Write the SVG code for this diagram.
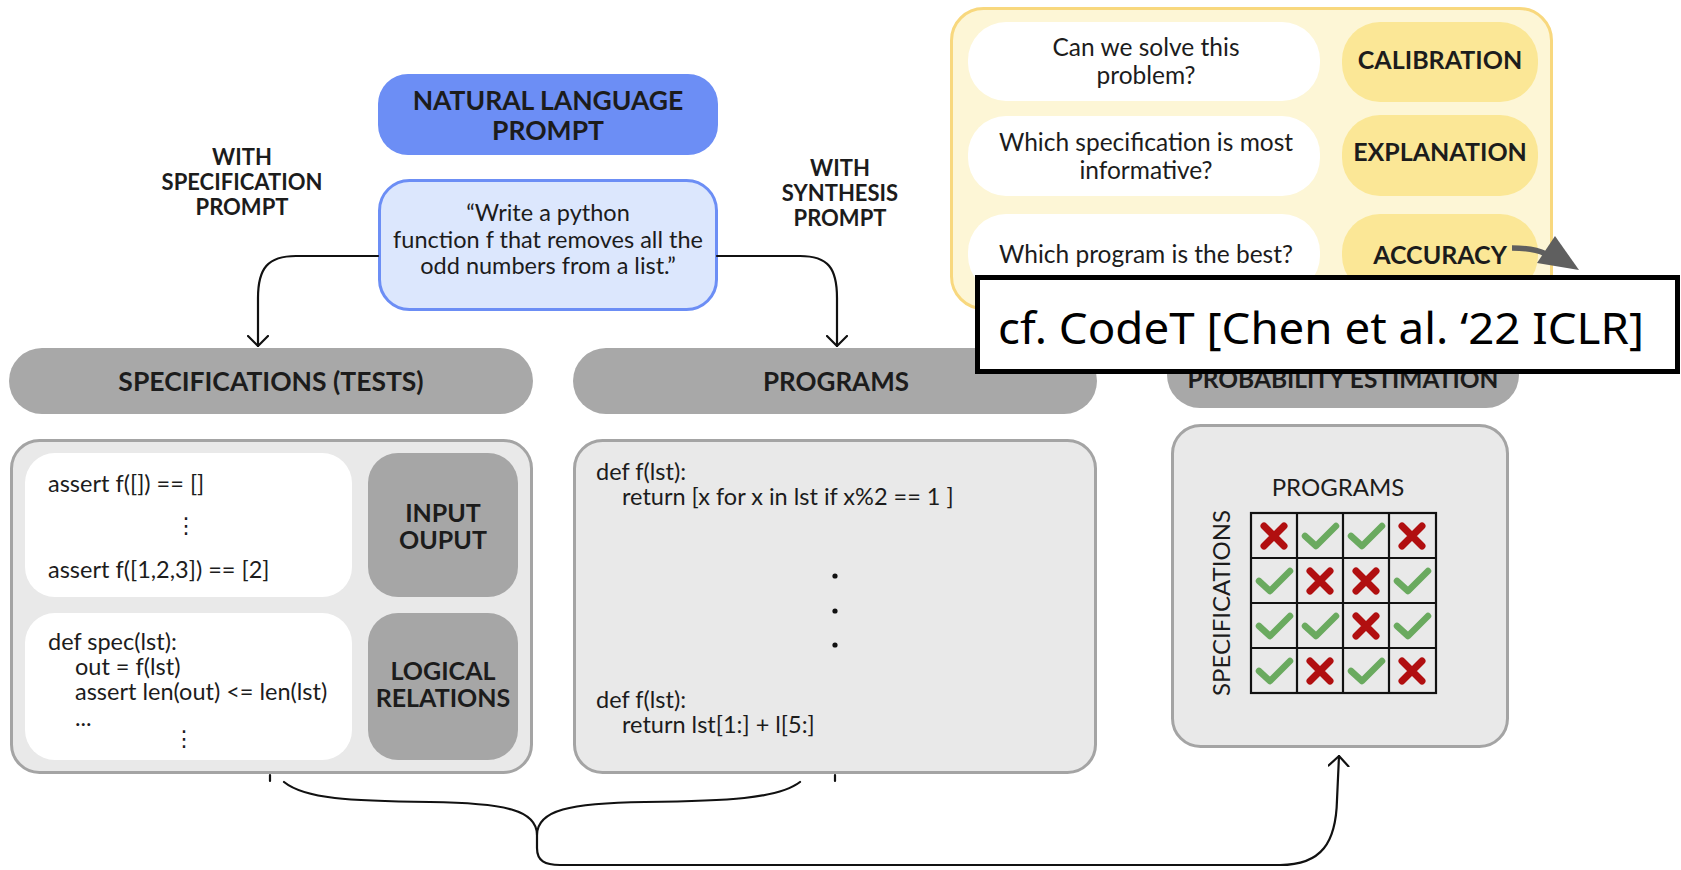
<svg xmlns="http://www.w3.org/2000/svg" width="1681" height="870" viewBox="0 0 1681 870">
  <defs>
    <style>
      text { font-family: Lato, 'Open Sans', 'DejaVu Sans', sans-serif; fill: #1c1c1c; }
      .b { font-weight: bold; }
      .mid { text-anchor: middle; }
      .code { font-size: 23.5px; }
      .hdr { fill: #a8a8a8; }
      .hdr-t { font-size: 26.5px; font-weight: bold; text-anchor: middle; }
      .panel { fill: #e9e9e9; stroke: #a4a4a4; stroke-width: 3; }
      .inner { fill: #ffffff; }
      .tag { fill: #a6a6a6; }
      .tag-t { font-size: 25px; font-weight: bold; text-anchor: middle; }
      .pill-w { fill: #ffffff; }
      .pill-y { fill: #fbe796; }
      .q { font-size: 24.5px; text-anchor: middle; }
      .qt { font-size: 25px; font-weight: bold; text-anchor: middle; }
      .side { font-size: 22px; font-weight: bold; text-anchor: middle; }
      .conn { fill: none; stroke: #111; stroke-width: 2.2; stroke-linecap: round; }
      .cell { fill: none; stroke: #111; stroke-width: 2.2; }
    </style>
    <marker id="chev" markerUnits="userSpaceOnUse" viewBox="0 0 12 22" markerWidth="12" markerHeight="22" refX="11" refY="11" orient="auto">
      <path d="M1,1 L11,11 L1,21" fill="none" stroke="#111" stroke-width="2.2" stroke-linecap="round" stroke-linejoin="round"/>
    </marker>
    <g id="xmark">
      <path d="M-10,-10 L10,10 M10,-10 L-10,10" stroke="#b10f10" stroke-width="7" stroke-linecap="round" fill="none"/>
    </g>
    <g id="okmark">
      <path d="M-15,0 L-4,10 L16,-10" stroke="#6aaa5f" stroke-width="6.5" stroke-linecap="round" stroke-linejoin="round" fill="none"/>
    </g>
  </defs>

  <rect width="1681" height="870" fill="#ffffff"/>

  <!-- side labels on the two prompt branches -->
  <g id="label-spec-prompt">
    <text class="side"><tspan x="242" y="165">WITH</tspan><tspan x="242" y="190">SPECIFICATION</tspan><tspan x="242" y="215">PROMPT</tspan></text>
  </g>
  <g id="label-synth-prompt">
    <text class="side"><tspan x="840" y="176">WITH</tspan><tspan x="840" y="201">SYNTHESIS</tspan><tspan x="840" y="226">PROMPT</tspan></text>
  </g>

  <!-- natural language prompt -->
  <g id="nl-prompt">
    <rect x="378" y="74" width="340" height="81" rx="30" fill="#6c8ef5"/>
    <text class="b mid" font-size="26.5"><tspan x="548" y="110">NATURAL LANGUAGE</tspan><tspan x="548" y="140">PROMPT</tspan></text>
  </g>
  <g id="nl-text">
    <rect x="379.5" y="180.5" width="337" height="129" rx="30" fill="#dce7fd" stroke="#6c8ef5" stroke-width="3"/>
    <text class="mid" font-size="23.5"><tspan x="548" y="221">“Write a python</tspan><tspan x="548" y="247.5">function f that removes all the</tspan><tspan x="548" y="274">odd numbers from a list.”</tspan></text>
  </g>

  <!-- uses of the estimate -->
  <g id="uses">
    <rect x="951.5" y="8.5" width="600" height="300" rx="32" fill="#fdf6d6" stroke="#f8d87e" stroke-width="3"/>
    <rect class="pill-w" x="968" y="22" width="352" height="79" rx="38"/>
    <rect class="pill-w" x="968" y="116" width="352" height="80" rx="38"/>
    <rect class="pill-w" x="968" y="214" width="352" height="80" rx="38"/>
    <rect class="pill-y" x="1342" y="22" width="196" height="80" rx="38"/>
    <rect class="pill-y" x="1342" y="115" width="196" height="81" rx="38"/>
    <rect class="pill-y" x="1342" y="214" width="196" height="80" rx="38"/>
    <text class="q"><tspan x="1146" y="56">Can we solve this</tspan><tspan x="1146" y="84">problem?</tspan></text>
    <text class="q"><tspan x="1146" y="151">Which specification is most</tspan><tspan x="1146" y="179">informative?</tspan></text>
    <text class="q" x="1146" y="263">Which program is the best?</text>
    <text class="qt" x="1440" y="69">CALIBRATION</text>
    <text class="qt" x="1440" y="161">EXPLANATION</text>
    <text class="qt" x="1440" y="264">ACCURACY</text>
  </g>

  <!-- column headers -->
  <g id="hdr-specs">
    <rect class="hdr" x="9" y="348" width="524" height="66" rx="33"/>
    <text class="hdr-t" x="271" y="391">SPECIFICATIONS (TESTS)</text>
  </g>
  <g id="hdr-programs">
    <rect class="hdr" x="573" y="348" width="524" height="66" rx="33"/>
    <text class="hdr-t" x="836" y="391" style="font-size:26px">PROGRAMS</text>
  </g>
  <g id="hdr-prob">
    <rect class="hdr" x="1167" y="342" width="352" height="66" rx="33"/>
    <text class="hdr-t" x="1343" y="388" style="font-size:24.5px">PROBABILITY ESTIMATION</text>
  </g>

  <!-- specifications panel -->
  <g id="specs">
    <rect class="panel" x="11.5" y="440.5" width="520" height="332" rx="28"/>
    <rect class="inner" x="25" y="453" width="327" height="144" rx="30"/>
    <rect class="inner" x="25" y="613" width="327" height="147" rx="30"/>
    <rect class="tag" x="368" y="453" width="150" height="144" rx="30"/>
    <rect class="tag" x="368" y="613" width="150" height="147" rx="30"/>
    <text class="code" x="48" y="492">assert f([]) == []</text>
    <text class="mid" font-size="22" x="186" y="533">⋮</text>
    <text class="code" x="48" y="578">assert f([1,2,3]) == [2]</text>
    <text class="code"><tspan x="48" y="650">def spec(lst):</tspan><tspan x="75" y="675">out = f(lst)</tspan><tspan x="75" y="700">assert len(out) &lt;= len(lst)</tspan><tspan x="75" y="726">...</tspan></text>
    <text class="mid" font-size="22" x="184" y="746">⋮</text>
    <text class="tag-t"><tspan x="443" y="522">INPUT</tspan><tspan x="443" y="549">OUPUT</tspan></text>
    <text class="tag-t"><tspan x="443" y="680">LOGICAL</tspan><tspan x="443" y="707">RELATIONS</tspan></text>
  </g>

  <!-- programs panel -->
  <g id="programs">
    <rect class="panel" x="574.5" y="440.5" width="521" height="332" rx="28"/>
    <text class="code"><tspan x="596" y="480">def f(lst):</tspan><tspan x="622" y="505">return [x for x in lst if x%2 == 1 ]</tspan></text>
    <circle cx="835" cy="576" r="2.6" fill="#111"/>
    <circle cx="835" cy="611" r="2.6" fill="#111"/>
    <circle cx="835" cy="645" r="2.6" fill="#111"/>
    <text class="code"><tspan x="596" y="708">def f(lst):</tspan><tspan x="622" y="733">return lst[1:] + l[5:]</tspan></text>
  </g>

  <!-- probability estimation panel -->
  <g id="prob">
    <rect class="panel" x="1172.5" y="425.5" width="335" height="321" rx="28"/>
    <text class="mid" font-size="24" x="1338" y="496">PROGRAMS</text>
    <text class="mid" font-size="24" transform="translate(1230,603) rotate(-90)">SPECIFICATIONS</text>
    <g id="grid">
      <rect class="cell" x="1251" y="513" width="185" height="180"/>
      <path class="cell" d="M1297,513 V693 M1343,513 V693 M1389,513 V693 M1251,558 H1436 M1251,603 H1436 M1251,648 H1436"/>
      <use href="#xmark" x="1274" y="536"/>
      <use href="#okmark" x="1320" y="536"/>
      <use href="#okmark" x="1366" y="536"/>
      <use href="#xmark" x="1412" y="536"/>
      <use href="#okmark" x="1274" y="581"/>
      <use href="#xmark" x="1320" y="581"/>
      <use href="#xmark" x="1366" y="581"/>
      <use href="#okmark" x="1412" y="581"/>
      <use href="#okmark" x="1274" y="626"/>
      <use href="#okmark" x="1320" y="626"/>
      <use href="#xmark" x="1366" y="626"/>
      <use href="#okmark" x="1412" y="626"/>
      <use href="#okmark" x="1274" y="671"/>
      <use href="#xmark" x="1320" y="671"/>
      <use href="#okmark" x="1366" y="671"/>
      <use href="#xmark" x="1412" y="671"/>
    </g>
  </g>

  <!-- connectors -->
  <g id="connectors">
    <path class="conn" d="M378,256 L296,256 C268,256 258,268 258,298 L258,346" marker-end="url(#chev)"/>
    <path class="conn" d="M717,256 L800,256 C828,256 837,268 837,298 L837,346" marker-end="url(#chev)"/>
    <path class="conn" d="M270,775 L270,781 M835,775 L835,781"/>
    <path class="conn" d="M284,782 C305,799 350,801 430,802 C505,803 537,810 537,835"/>
    <path class="conn" d="M800,782 C778,799 725,801 645,802 C570,803 537,810 537,835"/>
    <path class="conn" d="M537,835 L537,848 C537,861 545,865 560,865 L1280,865 C1322,865 1336,842 1337,800 L1339,756" marker-end="url(#chev)"/>
    <path d="M1512,248 C1528,248 1538,250 1546,254" fill="none" stroke="#5f5f5f" stroke-width="5.5"/>
    <polygon points="1555,236 1579,270 1537,263" fill="#5f5f5f"/>
  </g>

  <!-- citation overlay -->
  <g id="citation">
    <rect x="977.5" y="277.5" width="700" height="94" fill="#ffffff" stroke="#000000" stroke-width="5"/>
    <text x="998" y="344" font-size="44" textLength="646" lengthAdjust="spacingAndGlyphs" style="font-family: 'Noto Sans', 'Open Sans', sans-serif; fill:#000">cf. CodeT [Chen et al. ‘22 ICLR]</text>
  </g>
</svg>
